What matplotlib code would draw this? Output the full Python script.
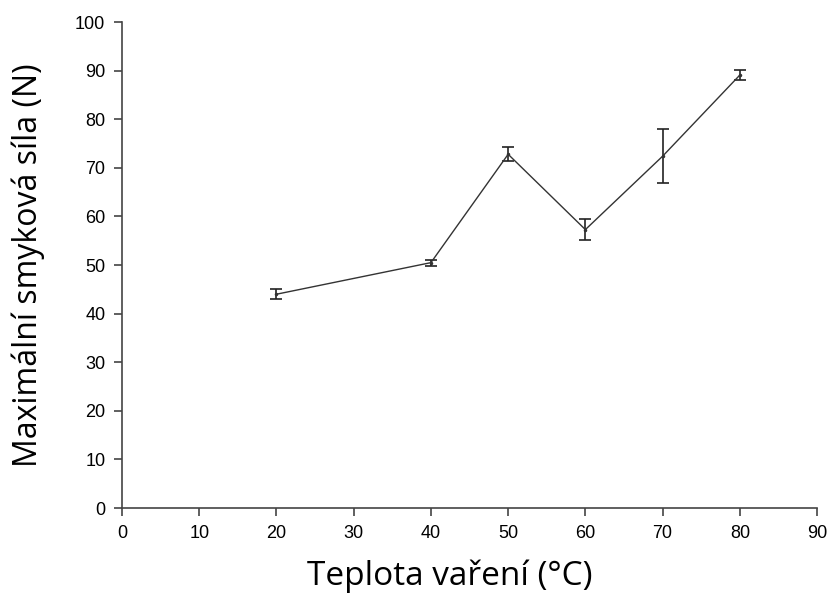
import matplotlib.pyplot as plt

teplota = [20, 40, 50, 60, 70, 80]
sila = [44.0, 50.5, 72.8, 57.3, 72.4, 89.1]
chyba = [1.0, 0.6, 1.4, 2.1, 5.5, 1.0]

fig = plt.figure(figsize=(8.27, 5.97), dpi=100)
ax = fig.add_axes([0.1475, 0.149, 0.8405, 0.814])

ax.errorbar(teplota, sila, yerr=chyba, color='#333333', linewidth=1.0,
            elinewidth=1.2, capsize=4, capthick=1.2, marker='.', markersize=3,
            ecolor='#222222')

ax.set_xlim(0, 90)
ax.set_ylim(0, 100)
ax.set_xticks(range(0, 91, 10))
ax.set_yticks(range(0, 101, 10))
ax.spines['top'].set_visible(False)
ax.spines['right'].set_visible(False)
for s in ['left', 'bottom']:
    ax.spines[s].set_color('#444444')
    ax.spines[s].set_linewidth(1.2)
ax.tick_params(direction='out', length=6, width=1.2, color='#444444',
               labelsize=13, pad=6)
for lab in ax.get_xticklabels() + ax.get_yticklabels():
    lab.set_family('Liberation Sans')

ax.set_xlabel('Teplota vaření (°C)', fontsize=24, family='Open Sans', labelpad=13, x=0.471)
ax.set_ylabel('Maximální smyková síla (N)', fontsize=23, family='Open Sans', labelpad=22)

plt.savefig('out.png', dpi=100)
plt.close()
